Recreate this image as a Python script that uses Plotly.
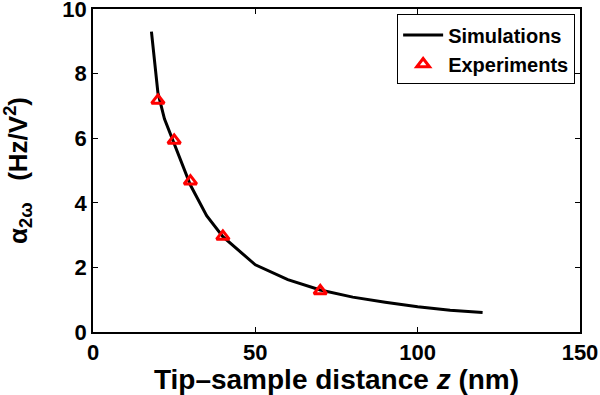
import plotly.graph_objects as go

# Simulation curve
sim_z = [18, 19, 20, 22, 25, 30, 35, 40, 50, 60, 70, 80, 90, 100, 110, 120]
sim_a = [9.3, 8.25, 7.4, 6.6, 5.85, 4.55, 3.6, 2.95, 2.08, 1.62, 1.3, 1.08, 0.92, 0.78, 0.67, 0.6]

# Experimental points
exp_z = [20, 25, 30, 40, 70]
exp_a = [7.17, 5.93, 4.67, 2.96, 1.27]

xticks = [0, 50, 100, 150]
yticks = [0, 2, 4, 6, 8, 10]

font_family = "Liberation Sans, Arial, sans-serif"

fig = go.Figure()
fig.add_trace(go.Scatter(x=sim_z, y=sim_a, mode="lines", name="Simulations",
                         line=dict(color="black", width=3)))
fig.add_trace(go.Scatter(x=exp_z, y=exp_a, mode="markers", name="Experiments",
                         marker=dict(symbol="triangle-up-open", size=11, color="red",
                                     line=dict(color="red", width=3))))

axis_common = dict(showline=True, linecolor="black", linewidth=1.5, mirror="ticks",
                   ticks="inside", ticklen=5, tickcolor="black", tickwidth=1,
                   showgrid=False, zeroline=False, automargin=False,
                   ticklabeloverflow="allow",
                   tickfont=dict(family=font_family, size=22, color="black", weight="bold"))

fig.update_layout(
    width=600, height=395,
    margin=dict(l=93, r=20, t=9, b=63),
    paper_bgcolor="white", plot_bgcolor="white",
    font=dict(family=font_family, color="black", weight="bold"),
    xaxis=dict(range=[0, 150], tickvals=xticks, autorange=False,
               title=dict(text="Tip\u2013sample distance <i>z</i> (nm)", standoff=5,
                          font=dict(family=font_family, size=28, color="black", weight="bold")),
               **axis_common),
    yaxis=dict(range=[0, 10], tickvals=yticks, autorange=False,
               title=dict(text="\u03b1<sub>2\u03c9</sub>   (Hz/V<sup>2</sup>)", standoff=32,
                          font=dict(family=font_family, size=26, color="black", weight="bold")),
               **axis_common),
    legend=dict(x=0.99, y=0.983, xanchor="right", yanchor="top",
                bordercolor="black", borderwidth=1, bgcolor="white",
                font=dict(family=font_family, size=20, color="black", weight="bold"),
                tracegroupgap=0, itemwidth=40),
    showlegend=True,
)

# remove the default page margin so the figure sits at the window's top-left corner
fig.write_html("out.html", config={"displayModeBar": False},
               post_script="document.body.style.margin='0';")
